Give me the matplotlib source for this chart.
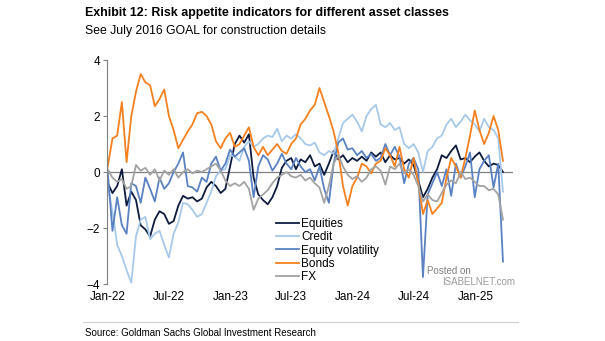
import matplotlib
matplotlib.use("Agg")
import matplotlib.pyplot as plt
import matplotlib.dates as mdates
import pandas as pd

# fortnightly observations, Jan-2022 to Mar-2025
dates = pd.date_range("2022-01-01", periods=85, freq="14D")

equities = [-0.4, -0.75, -0.5, 0.1, -1.2, -0.7, -1.0, -1.9, -2.05, -2.3,
            -1.7, -1.4, -1.5, -1.85, -1.75, -1.2, -0.85, -0.95, -0.9, -1.05,
            -0.95, -0.55, -0.35, -0.5, -0.75, -0.6, 0.2, 1.0, 1.3, 1.05,
            1.35, -0.2, -0.8, -1.0, -1.15, -0.9, -0.5, 0.15, 0.4, 0.5,
            0.1, 0.45, 0.35, 0.6, 0.2, 0.3, -0.1, 0.3, 0.75, 0.45,
            0.6, 0.35, 0.5, 0.4, 0.55, 0.4, 0.7, 0.55, 0.7, 0.35,
            0.6, 0.45, 0.5, 0.3, 0.45, 0.25, -0.3, -0.9, -0.6, -0.2,
            0.1, 0.6, 0.5, 0.75, 0.95, 0.45, 0.5, 0.35, 0.55, 0.7,
            0.4, 0.2, 0.3, 0.25, 0.0]

credit = [-0.5, -1.4, -2.6, -3.0, -3.5, -3.95, -2.3, -1.7, -1.6, -2.4,
          -2.2, -2.1, -2.6, -3.05, -2.2, -1.8, -1.1, -1.15, -1.35, -1.6,
          -1.5, -1.1, -0.7, -0.15, 0.05, 0.1, 0.6, 0.55, 0.4, 0.9,
          1.1, 0.9, 1.0, 1.2, 1.3, 1.25, 1.55, 1.1, 1.3, 1.2,
          1.35, 1.2, 1.0, 0.95, 1.05, 0.7, 0.6, 0.75, 0.65, 1.2,
          1.75, 1.9, 2.05, 1.8, 1.45, 2.0, 2.25, 2.4, 1.7, 1.6,
          1.75, 1.5, 1.6, 1.0, 0.85, 1.0, 0.7, 0.0, 0.75, 0.9,
          1.2, 1.3, 1.7, 1.9, 1.6, 1.8, 2.05, 1.85, 1.7, 1.45,
          1.9, 1.6, 1.5, 1.2, -0.7]

eq_vol = [0.0, -2.1, -0.9, -1.9, -2.2, -0.4, -0.5, -1.1, -0.2, -0.6,
          -1.05, -0.2, -0.6, -0.4, 0.0, 0.3, 0.7, -0.5, -0.55, -0.7,
          -0.2, -0.35, 0.3, 0.55, 0.05, 0.3, 0.8, 0.55, 0.7, 0.85,
          0.4, -0.9, 0.2, 0.6, 0.45, 0.05, 0.3, 0.65, 0.3, 0.1,
          0.5, 0.2, 0.0, 0.1, -0.3, 0.2, -0.6, -1.1, 0.3, 1.05,
          1.2, 0.8, 0.85, 0.6, 0.75, 0.5, 0.65, 0.4, 0.5, 1.0,
          0.6, 0.9, 0.55, -0.4, 0.3, 0.5, 0.1, -3.75, -0.8, -0.4,
          0.0, -0.5, 0.1, -0.85, 0.3, -0.2, 0.2, 0.7, -0.9, 0.1,
          0.4, 0.6, -0.55, 0.3, -3.2]

bonds = [0.2, 1.2, 1.3, 2.5, 0.35, 2.0, 2.87, 3.5, 3.2, 3.1,
         2.35, 2.6, 2.95, 2.0, 1.5, 0.85, 1.15, 1.45, 1.7, 2.1,
         2.15, 2.0, 1.7, 1.1, 0.85, 1.2, 1.4, 0.9, 1.0, 1.3,
         1.6, 0.9, 0.6, 0.9, 0.6, 0.8, 1.0, 0.75, 0.65, 1.0,
         1.2, 1.7, 1.9, 2.2, 2.4, 3.0, 2.5, 2.0, 1.45, 0.7,
         -0.5, -1.2, -0.5, -0.2, 0.3, 0.2, -0.05, 0.3, 0.4, 0.85,
         0.6, 0.2, 0.9, 0.1, -0.2, 0.5, -0.4, -1.5, -1.0, -1.5,
         -1.3, -1.1, -0.2, 0.5, 0.2, -0.2, 0.5, 1.3, 2.2, 1.5,
         1.0, 1.4, 2.0, 1.5, 0.4]

fx = [0.1, -0.2, -0.35, -0.25, -0.6, -0.5, 0.25, 0.05, 0.15, -0.1,
      0.1, -0.3, 0.05, -0.1, 0.1, -0.2, 0.0, 0.1, -0.05, 0.05,
      0.0, 0.1, 0.2, 0.3, 0.05, -0.3, -0.5, -0.4, -0.5, -0.35,
      -0.6, -1.35, -0.95, -0.8, -0.65, -0.4, -0.2, -0.1, 0.0, -0.15,
      -0.2, -0.1, -0.3, -0.2, -0.4, -0.55, -1.1, -0.5, 0.3, 0.6,
      0.2, -0.1, -0.25, -0.15, -0.35, -0.2, 0.1, 0.2, 0.05, -0.45,
      0.2, 0.1, 0.3, -0.05, 0.1, -0.1, -0.5, -1.05, -0.8, -1.0,
      -1.05, -0.75, -0.45, -0.3, -0.4, 0.0, -0.25, -0.2, -0.35, -0.5,
      -0.5, -0.65, -0.6, -0.8, -1.7]

series = [
    ("Equities", equities, "#0d1b3e"),
    ("Credit", credit, "#a7c9ea"),
    ("Equity volatility", eq_vol, "#5a82c2"),
    ("Bonds", bonds, "#f5801f"),
    ("FX", fx, "#a3a3a3"),
]

plt.rcParams["font.family"] = ["Liberation Sans", "DejaVu Sans"]

fig = plt.figure(figsize=(6.05, 3.41), dpi=100)
ax = fig.add_axes([0.177, 0.167, 0.671, 0.657])

ax.axhline(0, color="#808080", lw=0.9, zorder=1)
for name, vals, col in series:
    ax.plot(dates, vals, color=col, lw=1.3, label=name, zorder=2)

ax.set_ylim(-4, 4)
ax.set_yticks([-4, -2, 0, 2, 4])
ax.set_xlim(pd.Timestamp("2021-12-30"), pd.Timestamp("2025-04-21"))
ax.xaxis.set_major_locator(mdates.MonthLocator(bymonth=[1, 7]))
ax.xaxis.set_major_formatter(mdates.DateFormatter("%b-%y"))

for s in ["top", "right", "bottom"]:
    ax.spines[s].set_visible(False)
ax.spines["left"].set_color("#808080")
ax.spines["left"].set_linewidth(0.8)
ax.tick_params(axis="y", length=3, width=0.8, color="#808080",
               labelsize=8.5, pad=2)
ax.tick_params(axis="x", length=0, labelsize=8.5, pad=5)

ax.legend(loc="lower left", bbox_to_anchor=(0.415, 0.005), frameon=False,
          fontsize=8.5, handlelength=2.0, handletextpad=0.15,
          labelspacing=0.1, borderpad=0, borderaxespad=0)

fig.text(0.14, 0.962, "Exhibit 12: Risk appetite indicators for different asset classes",
         weight="bold", fontsize=8.9, va="center")
fig.text(0.14, 0.908, "See July 2016 GOAL for construction details",
         fontsize=8.8, va="center")

fig.add_artist(plt.Line2D([0.137, 0.856], [0.056, 0.056], color="#d0d0d0", lw=0.8))
fig.text(0.14, 0.024, "Source: Goldman Sachs Global Investment Research",
         fontsize=7, va="center")

# site watermark
fig.text(0.706, 0.205, "Posted on", color="#808080", fontsize=7, va="center")
fig.text(0.73, 0.172, "ISABELNET.com", color="#9a9a9a", fontsize=7, va="center")

fig.savefig("out.png", dpi=100)
